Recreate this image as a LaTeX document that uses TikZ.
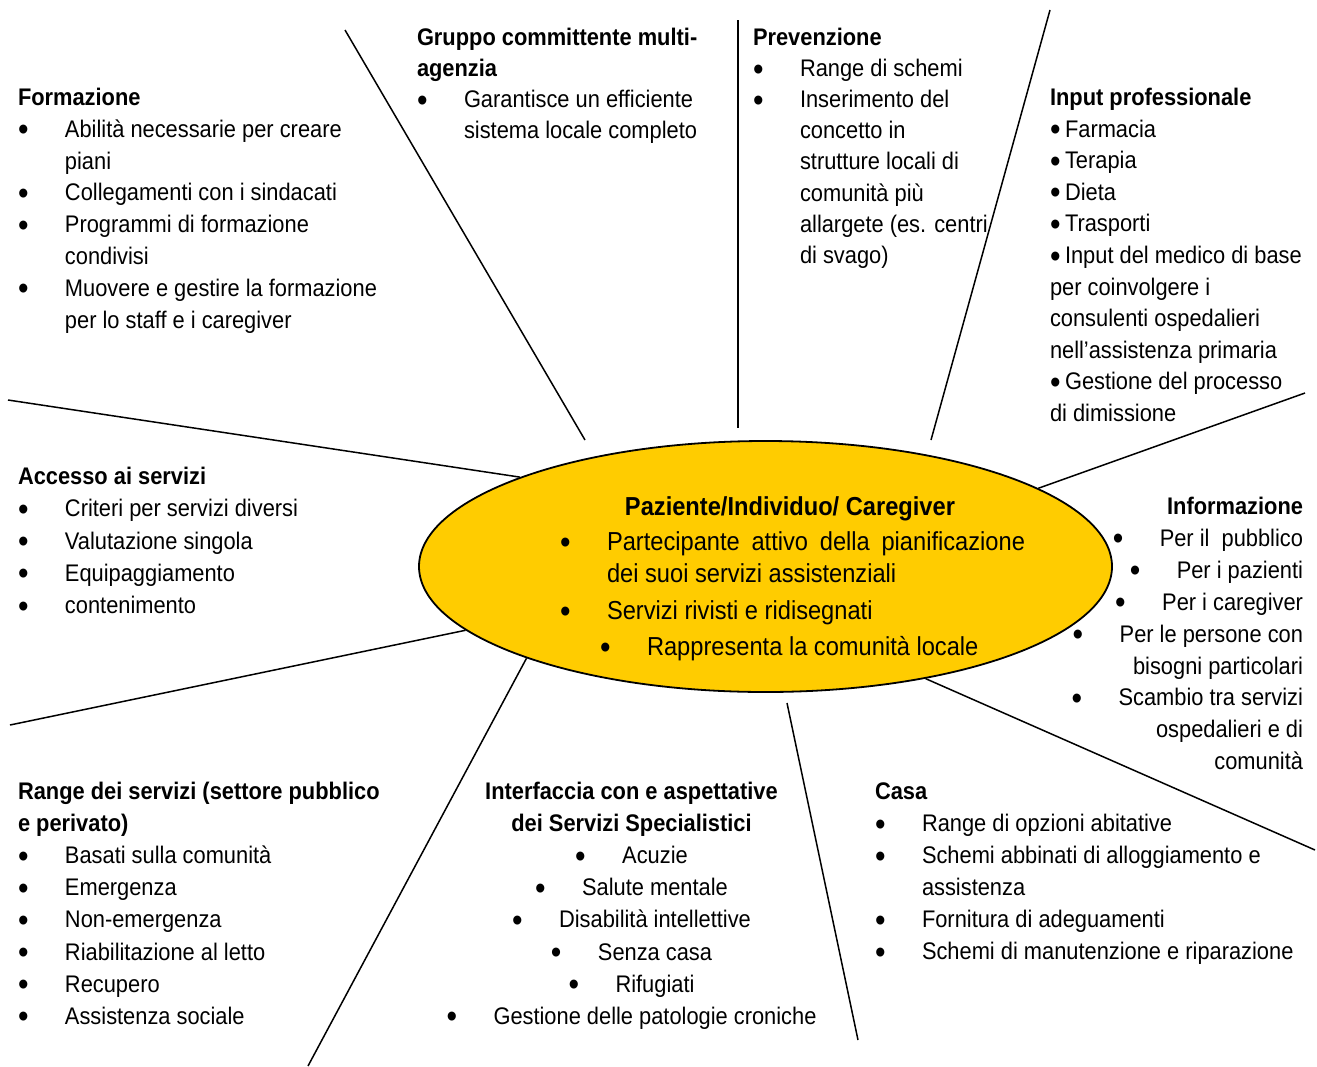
\documentclass[tikz,border=0pt]{standalone}
\usepackage{fontspec}
\setmainfont{Liberation Sans}[FakeStretch=0.91]
\usetikzlibrary{shapes.geometric}

\definecolor{ovalfill}{RGB}{255,204,0}
\newcommand{\fs}{\rule{0pt}{22pt}}
\newcommand{\pallino}{\raisebox{-3.5pt}{\fontsize{33}{0}\selectfont\textbullet}}
\newcommand{\bul}{\makebox[47pt][l]{\pallino}}
\newcommand{\tbul}{\makebox[15pt][l]{\pallino}}
\newcommand{\ind}{\hspace*{47pt}}

\tikzset{
  blocco/.style={anchor=north west, align=left, inner sep=0pt, outer sep=0pt},
  corpo/.style={font=\fontsize{24}{#1}\selectfont},
  centro/.style={font=\fontsize{26}{32}\selectfont},
  raggio/.style={line width=1.5pt},
}

\begin{document}
\begin{tikzpicture}[x=1pt,y=-1pt]
\useasboundingbox (0,0) rectangle (1317,1066);

% ovale centrale
\node[ellipse, draw, line width=1.8pt, fill=ovalfill, minimum width=693pt, minimum height=251pt, inner sep=0pt] (paziente) at (765.5,566.5) {};

% raggi
\coordinate (r1a) at (345,30);
\coordinate (r1b) at (585,440);
\coordinate (r2a) at (738,20);
\coordinate (r2b) at (738,428);
\coordinate (r3a) at (1050,10);
\coordinate (r3b) at (931,440);
\coordinate (r4a) at (1305,393);
\coordinate (r5a) at (1315,850);
\coordinate (r6a) at (858,1040);
\coordinate (r6b) at (787,703);
\coordinate (r7a) at (308,1066);
\coordinate (r8a) at (10,725);
\coordinate (r9a) at (8,400);
\draw[raggio] (r1a) -- (r1b);
\draw[raggio] (r2a) -- (r2b);
\draw[raggio] (r3a) -- (r3b);
\draw[raggio] (r4a) -- (paziente.16);
\draw[raggio] (r5a) -- (paziente.325);
\draw[raggio] (r6a) -- (r6b);
\draw[raggio] (r7a) -- (paziente.201);
\draw[raggio] (r8a) -- (paziente.192);
\draw[raggio] (r9a) -- (paziente.160);

% testo centrale
\node[anchor=north, inner sep=0pt, centro] (paztitolo) at (790,493) {\fs\textbf{Paziente/Individuo/ Caregiver}};
\node[blocco, centro] (paz1) at (560,528) {\fs\bul\makebox[418pt][s]{Partecipante attivo della pianificazione}\\ \ind dei suoi servizi assistenziali};
\node[blocco, centro] (paz2) at (560,597) {\fs\bul Servizi rivisti e ridisegnati};
\node[blocco, centro] (paz3) at (600,633) {\fs\bul Rappresenta la comunità locale};

% settori
\node[blocco, corpo=31.8] (formazione) at (18,83.5) {\fs\textbf{Formazione}\\
\bul Abilità necessarie per creare\\
\ind piani\\
\bul Collegamenti con i sindacati\\
\bul Programmi di formazione\\
\ind condivisi\\
\bul Muovere e gestire la formazione\\
\ind per lo staff e i caregiver};

\node[blocco, corpo=31] (gruppo) at (417,23.5) {\fs\textbf{Gruppo committente multi-}\\
\textbf{agenzia}\\
\bul Garantisce un efficiente\\
\ind sistema locale completo};

\node[blocco, corpo=31.1] (prevenzione) at (753,23.5) {\fs\textbf{Prevenzione}\\
\bul Range di schemi\\
\bul Inserimento del\\
\ind concetto in\\
\ind strutture locali di\\
\ind comunità più\\
\ind allargete (es. centri\\
\ind di svago)};

\node[blocco, corpo=31.6] (input) at (1050,83.5) {\fs\textbf{Input professionale}\\
\tbul Farmacia\\
\tbul Terapia\\
\tbul Dieta\\
\tbul Trasporti\\
\tbul Input del medico di base\\
per coinvolgere i\\
consulenti ospedalieri\\
nell’assistenza primaria\\
\tbul Gestione del processo\\
di dimissione};

\node[blocco, corpo=32.25] (accesso) at (18,462.5) {\fs\textbf{Accesso ai servizi}\\
\bul Criteri per servizi diversi\\
\bul Valutazione singola\\
\bul Equipaggiamento\\
\bul contenimento};

\node[blocco, anchor=north east, align=right, corpo=31.9] (informazione) at (1303,492.5) {\fs\textbf{Informazione}\\
\bul Per il\ \ pubblico\\
\bul Per i pazienti\\
\bul Per i caregiver\\
\bul Per le persone con\\
bisogni particolari\\
\bul Scambio tra servizi\\
ospedalieri e di\\
comunità};

\node[blocco, corpo=32.1] (range) at (18,777.5) {\fs\textbf{Range dei servizi (settore pubblico}\\
\textbf{e perivato)}\\
\bul Basati sulla comunità\\
\bul Emergenza\\
\bul Non-emergenza\\
\bul Riabilitazione al letto\\
\bul Recupero\\
\bul Assistenza sociale};

\node[blocco, anchor=north, align=center, corpo=32.1] (interfaccia) at (631.5,777.5) {\fs\textbf{Interfaccia con e aspettative}\\
\textbf{dei Servizi Specialistici}\\
\bul Acuzie\\
\bul Salute mentale\\
\bul Disabilità intellettive\\
\bul Senza casa\\
\bul Rifugiati\\
\bul Gestione delle patologie croniche};

\node[blocco, corpo=32] (casa) at (875,777.5) {\fs\textbf{Casa}\\
\bul Range di opzioni abitative\\
\bul Schemi abbinati di alloggiamento e\\
\ind assistenza\\
\bul Fornitura di adeguamenti\\
\bul Schemi di manutenzione e riparazione};
\end{tikzpicture}
\end{document}
